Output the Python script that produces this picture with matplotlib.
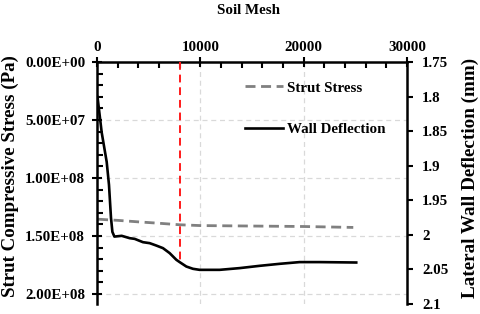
import numpy as np
import matplotlib
matplotlib.use("Agg")
import matplotlib.pyplot as plt
from matplotlib.ticker import FixedLocator, MultipleLocator

plt.rcParams['font.family'] = ['Liberation Serif', 'DejaVu Serif']
plt.rcParams['font.weight'] = 'bold'

# ---- data ----
stress_mesh = [100, 1000, 2000, 4000, 6000, 8000, 10000, 15000, 20000, 24800]
strut_stress = [1.355e8, 1.360e8, 1.365e8, 1.378e8, 1.390e8, 1.403e8, 1.410e8, 1.414e8, 1.418e8, 1.426e8]

wall_mesh = [50, 455, 938, 1160, 1354, 1489, 1683, 2389, 3162, 3646, 4130, 4449, 5097, 5745,
             6383, 7031, 7679, 7998, 8646, 9284, 9932, 11867, 13801, 15735, 17669, 19603,
             21538, 25087]
wall_defl = [1.8006, 1.8520, 1.8945, 1.9277, 1.9754, 1.9957, 2.0025, 2.0014, 2.0048, 2.0058,
             2.0087, 2.0106, 2.0120, 2.0155, 2.0192, 2.0264, 2.0361, 2.0394, 2.0458, 2.0491,
             2.0506, 2.0506, 2.0481, 2.0448, 2.0419, 2.0394, 2.0394, 2.0400]

chosen_mesh = 8000

x_ticks = [0, 10000, 20000, 30000]
left_ticks = [0, 5e7, 1e8, 1.5e8, 2e8]
left_tick_labels = ['0.00E+00', '5.00E+07', '1.00E+08', '1.50E+08', '2.00E+08']
right_ticks = [1.75, 1.8, 1.85, 1.9, 1.95, 2.0, 2.05, 2.1]
right_tick_labels = ['1.75', '1.8', '1.85', '1.9', '1.95', '2', '2.05', '2.1']

FS = 10.8

# ---- figure ----
fig = plt.figure(figsize=(4.8, 3.14), dpi=100)
ax = fig.add_axes([97/480, 1-304/314, (407-97)/480, (304-62)/314])
ax2 = ax.twinx()

ax.set_xlim(0, 30000)
ax.set_ylim(2.086e8, 0)
ax2.set_ylim(2.1, 1.75)

# grid
for v in left_ticks[1:]:
    ax.axhline(v, color='#d9d9d9', lw=0.9, ls=(0, (4, 3)), zorder=0)
for v in x_ticks[1:3]:
    ax.axvline(v, color='#d9d9d9', lw=0.9, ls=(0, (4, 3)), zorder=0)

l1, = ax.plot(stress_mesh, strut_stress, color='#808080', lw=2.0, ls=(0, (3.6, 2.0)),
              label='Strut Stress')
l2, = ax2.plot(wall_mesh, wall_defl, color='black', lw=1.9, label='Wall Deflection')

ymark = np.interp(chosen_mesh, wall_mesh, wall_defl)
ax2.plot([chosen_mesh, chosen_mesh], [1.75, ymark], color='#ff1a1a', lw=1.4,
         ls=(0, (4, 2.5)), zorder=1)

# x axis on top
ax.xaxis.tick_top()
ax.xaxis.set_major_locator(FixedLocator(x_ticks))
ax.xaxis.set_minor_locator(MultipleLocator(2000))
ax.set_xticklabels([str(v) for v in x_ticks], fontsize=FS, fontweight='bold')
ax.tick_params(axis='x', which='major', direction='inout', length=7, width=1.5, pad=2)
ax.tick_params(axis='x', which='minor', direction='in', length=4, width=1.5)

ax.yaxis.set_major_locator(FixedLocator(left_ticks))
ax.yaxis.set_minor_locator(MultipleLocator(1e7))
ax.set_yticklabels(left_tick_labels, fontsize=FS, fontweight='bold')
ax.tick_params(axis='y', which='major', direction='inout', length=7, width=1.5, pad=5)
ax.tick_params(axis='y', which='minor', direction='in', length=4, width=1.5)

ax2.yaxis.set_major_locator(FixedLocator(right_ticks))
ax2.set_yticklabels(right_tick_labels, fontsize=FS, fontweight='bold')
ax2.tick_params(axis='y', which='major', direction='out', length=4, width=1.5, pad=7)

for a in (ax, ax2):
    a.spines['bottom'].set_visible(False)
    for s in ('top', 'left', 'right'):
        a.spines[s].set_linewidth(1.8)
ax.spines['right'].set_visible(False)
ax2.spines['left'].set_visible(False)
ax2.spines['top'].set_visible(False)

fig.text(248/480, 1-11/314, 'Soil Mesh', ha='center', va='center', fontsize=FS, fontweight='bold')
fig.text(10/480, 1-176/314, 'Strut Compressive Stress (Pa)', rotation=90, ha='center',
         va='center', fontsize=13.6, fontweight='bold')
fig.text(470/480, 1-178/314, 'Lateral Wall Deflection (mm)', rotation=90, ha='center',
         va='center', fontsize=13.8, fontweight='bold')

leg = fig.legend([l1, l2], ['Strut Stress', 'Wall Deflection'], loc='upper left',
                 bbox_to_anchor=(245/480, 1-81/314), frameon=False,
                 prop={'weight': 'bold', 'size': FS}, handlelength=2.5, handletextpad=0.3,
                 labelspacing=1.85, borderpad=0, borderaxespad=0)

fig.savefig('out.png', dpi=100)
